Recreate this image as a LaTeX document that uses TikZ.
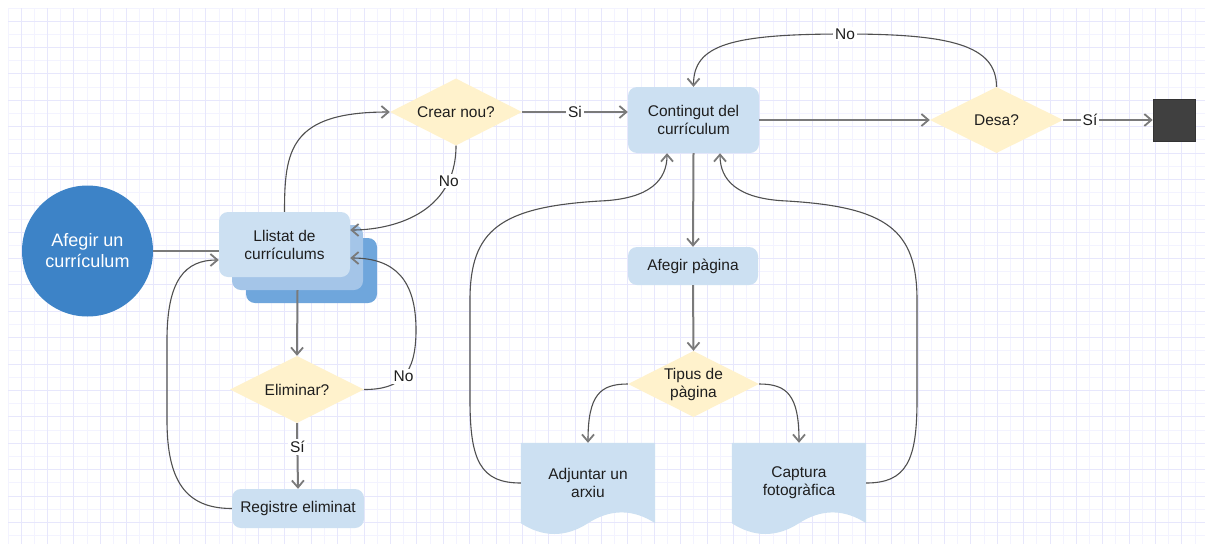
\documentclass[tikz,border=0pt]{standalone}
\usepackage{fontspec}
\setmainfont{Liberation Sans}
\usetikzlibrary{arrows.meta,shapes.geometric,calc}
\pgfdeclarelayer{bg}
\pgfsetlayers{bg,main}
\definecolor{gridA}{RGB}{243,243,255}
\definecolor{gridB}{RGB}{231,231,252}
\definecolor{boxblue}{RGB}{204,224,242}
\definecolor{midblue}{RGB}{164,197,232}
\definecolor{backblue}{RGB}{111,166,220}
\definecolor{startblue}{RGB}{61,131,199}
\definecolor{decyel}{RGB}{255,242,204}
\definecolor{endgray}{RGB}{64,64,64}
\definecolor{edgeline}{RGB}{80,80,80}
\definecolor{edgestraight}{RGB}{122,122,122}
\definecolor{txt}{RGB}{30,30,30}
\newcommand{\docshape}[1]{%
  \fill[boxblue] (#1.north west) -- (#1.north east) -- (#1.south east)
    .. controls +(-22.3,-14.4) and +(22.3,-14.4) .. (#1.south)
    .. controls +(-22.3,14.4) and +(22.3,14.4) .. (#1.south west) -- cycle;}
\begin{document}
\begin{tikzpicture}[x=1pt,y=-1pt,
  every node/.style={font=\fontsize{15.5}{18}\selectfont, text=txt, inner sep=0pt, align=center},
  arr/.style={-{Straight Barb[length=7pt,width=12pt,line width=1.8pt,color=edgestraight]}},
  sline/.style={draw=edgestraight, line width=2pt},
  cline/.style={draw=edgeline, line width=1.1pt},
  lbl/.style={fill=white, inner sep=2pt},
  boxnode/.style={rectangle, rounded corners=9pt, fill=boxblue},
  decnode/.style={diamond, aspect=2, fill=decyel},
  docnode/.style={rectangle, minimum width=134pt, minimum height=80pt},
  startnode/.style={circle, fill=startblue, minimum size=131pt, text=white,
    font=\fontsize{18}{21}\selectfont},
  endnode/.style={rectangle, fill=endgray, draw=black!80, line width=0.6pt,
    minimum width=42pt, minimum height=42pt}
]
\useasboundingbox (0,0) rectangle (1205,544);
\begin{pgfonlayer}{bg}
  \fill[white] (0,0) rectangle (1205,544);
  \foreach \j in {0,...,45} \draw[gridA, line width=1pt] ({8+26.38*\j},8) -- ({8+26.38*\j},544);
  \foreach \j in {0,...,20} \draw[gridA, line width=1pt] (8,{8+26.38*\j}) -- (1205,{8+26.38*\j});
  \foreach \j in {0,...,44} \draw[gridB, line width=1pt] ({21.19+26.38*\j},8) -- ({21.19+26.38*\j},544);
  \foreach \j in {0,...,19} \draw[gridB, line width=1pt] (8,{21.19+26.38*\j}) -- (1205,{21.19+26.38*\j});
\end{pgfonlayer}

% nodes
\node[startnode] (start) at (87.5,251) {Afegir un\\currículum};
\node[rectangle, rounded corners=9pt, fill=backblue, minimum width=131pt, minimum height=65pt] (llback) at (311.5,270.5) {};
\node[rectangle, rounded corners=9pt, fill=midblue, minimum width=131pt, minimum height=65pt] (llmid) at (297.5,257.5) {};
\node[boxnode, minimum width=131pt, minimum height=65pt] (llist) at (284.5,244.5) {Llistat de\\currículums};
\node[decnode, minimum width=132pt, minimum height=67pt] (crear) at (456,112) {Crear nou?};
\node[boxnode, minimum width=131pt, minimum height=66pt] (cont) at (693.5,120) {Contingut del\\currículum};
\node[decnode, minimum width=133pt, minimum height=66pt] (desa) at (996.5,120) {Desa?};
\node[endnode] (fin) at (1174,120) {};
\node[boxnode, minimum width=130pt, minimum height=38pt] (afeg) at (693,266) {Afegir pàgina};
\node[decnode, minimum width=131pt, minimum height=66pt] (tipus) at (693.5,384) {Tipus de\\pàgina};
\node[docnode] (adj) at (588,483) {Adjuntar un\\arxiu};
\node[docnode] (capt) at (799,483) {Captura\\fotogràfica};
\begin{pgfonlayer}{bg}
  \docshape{adj}
  \docshape{capt}
\end{pgfonlayer}
\node[decnode, minimum width=134pt, minimum height=67pt] (elim) at (297,389.5) {Eliminar?};
\node[boxnode, minimum width=132pt, minimum height=39pt] (reg) at (298,508.5) {Registre eliminat};

% connectors
\draw[sline] (start.east) -- (start.east -| llist.west);
\draw[cline, arr] (llist.north) .. controls (284.5,150) and (290,112) .. (crear.west);
\draw[cline, arr] (crear.south) .. controls (456,215) and (390,230) .. ([yshift=14.5pt]llist.east)
  node[lbl, pos=0.2] {No};
\draw[sline, arr] (crear.east) -- (crear.east -| cont.west) node[lbl, midway] {Si};
\draw[sline, arr] (cont.east) -- (desa.west);
\draw[sline, arr] (desa.east) -- (fin.west) node[lbl, pos=0.3] {Sí};
\draw[cline, arr] (desa.north) .. controls (996.5,45) and (950,34) .. (845,34) node[lbl] {No}
  .. controls (730,34) and (693.5,45) .. (cont.north);
\draw[sline, arr] (cont.south) -- (afeg.north);
\draw[sline, arr] (afeg.south) -- (tipus.north);
\draw[cline, arr] (tipus.west) .. controls (600,384) and (588,395) .. (adj.north);
\draw[cline, arr] (tipus.east) .. controls (787,384) and (799,395) .. (capt.north);
\draw[cline, arr] (adj.west) .. controls (480,483) and (470,460) .. (470,400) -- (470,300)
  .. controls (470,230) and (500,207) .. (600,201)
  .. controls (650,199) and (667,180) .. ([xshift=-26.5pt]cont.south);
\draw[cline, arr] (capt.east) .. controls (907,483) and (917,460) .. (917,400) -- (917,300)
  .. controls (917,230) and (887,207) .. (787,201)
  .. controls (737,199) and (720,180) .. ([xshift=26.5pt]cont.south);
\draw[sline, arr] (llmid.south) -- (elim.north);
\draw[sline, arr] (elim.south) -- (reg.north) node[lbl, pos=0.36] {Sí};
\draw[cline, arr] (elim.east) .. controls (400,389.5) and (416,375) .. (416,330) node[lbl, pos=0.5] {No}
  .. controls (416,280) and (395,258) .. ([yshift=-13.5pt]llist.east);
\draw[cline, arr] (reg.west) .. controls (185,508.5) and (167,480) .. (167,420) -- (167,340)
  .. controls (167,280) and (185,260) .. ([yshift=-15.5pt]llist.west);
\end{tikzpicture}
\end{document}
